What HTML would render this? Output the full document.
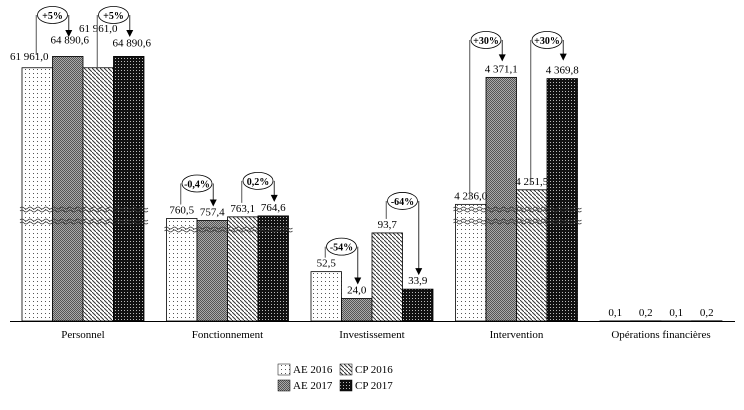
<!DOCTYPE html>
<html><head><meta charset="utf-8"><style>
body{margin:0;background:#fff;}
svg{display:block;font-family:"Liberation Serif",serif;}
</style></head><body>
<svg id="chart" width="744" height="410" viewBox="0 0 744 410">
<defs>
<pattern id="pDots" width="4" height="4" patternUnits="userSpaceOnUse"><rect width="4" height="4" fill="#fff"/><rect x="1" y="1" width="1" height="1" fill="#555"/></pattern>
<pattern id="pGray" width="2" height="2" patternUnits="userSpaceOnUse"><rect width="2" height="2" fill="#aaa"/><rect width="1" height="1" fill="#555"/><rect x="1" y="1" width="1" height="1" fill="#555"/></pattern>
<pattern id="pDiag" width="4" height="4" patternUnits="userSpaceOnUse"><rect width="4" height="4" fill="#fff"/><path d="M-1,-1 l2,2 M0,0 l4,4 M3,3 l2,2" stroke="#333" stroke-width="1"/></pattern>
<pattern id="pBlack" width="3" height="3" patternUnits="userSpaceOnUse"><rect width="3" height="3" fill="#111"/><rect x="1" y="1" width="1" height="1" fill="#bbb"/></pattern>
</defs>
<g id="bars"></g><g id="labels"></g><g id="callouts"></g>
<line x1="10" y1="321.5" x2="735" y2="321.5" stroke="#000" stroke-width="1"/>
<g font-size="11">
<rect x="278" y="364" width="12" height="11" fill="url(#pDots)" stroke="#000" stroke-width="0.5"/><text x="293" y="373">AE 2016</text>
<rect x="340" y="364" width="12" height="11" fill="url(#pDiag)" stroke="#000" stroke-width="0.5"/><text x="355" y="373">CP 2016</text>
<rect x="278" y="380" width="12" height="11" fill="url(#pGray)" stroke="#000" stroke-width="0.5"/><text x="293" y="389">AE 2017</text>
<rect x="340" y="380" width="12" height="11" fill="url(#pBlack)" stroke="#000" stroke-width="0.5"/><text x="355" y="389">CP 2017</text>
</g>
</svg>
<script>
const categories=["Personnel","Fonctionnement","Investissement","Intervention","Opérations financières"];
const ae2016=[61961.0,760.5,52.5,4236.0,0.1];
const ae2017=[64890.6,757.4,24.0,4371.1,0.2];
const cp2016=[61961.0,763.1,93.7,4251.5,0.1];
const cp2017=[64890.6,764.6,33.9,4369.8,0.2];
const changes=[["+5%","+5%"],["-0,4%","0,2%"],["-54%","-64%"],["+30%","+30%"],["",""]];
const labelText=[["61 961,0","64 890,6","61 961,0","64 890,6"],["760,5","757,4","763,1","764,6"],["52,5","24,0","93,7","33,9"],["4 236,0","4 371,1","4 251,5","4 369,8"],["0,1","0,2","0,1","0,2"]];
// broken-axis scale: value knots -> pixel height knots
const knotV=[0,100,755,766,4230,4380,61900,65000];
const knotH=[0,94,99,106,111,252,253,265];
const base=321;
function yScale(v){for(let i=1;i<knotV.length;i++){if(v<=knotV[i]){const t=(v-knotV[i-1])/(knotV[i]-knotV[i-1]);return base-(knotH[i-1]+t*(knotH[i]-knotH[i-1]));}}return base-knotH[knotH.length-1];}
const gStart=22,gStep=144.5,bw=30.5;
function xBar(c,s){return gStart+c*gStep+s*bw;}
const NS="http://www.w3.org/2000/svg";
const series=[ae2016,ae2017,cp2016,cp2017];
const fills=["url(#pDots)","url(#pGray)","url(#pDiag)","url(#pBlack)"];
const sNames=["ae-2016","ae-2017","cp-2016","cp-2017"];
const bars=document.getElementById("bars"),labels=document.getElementById("labels"),co=document.getElementById("callouts");
function mk(tag,attrs,parent){const e=document.createElementNS(NS,tag);for(const k in attrs)e.setAttribute(k,attrs[k]);parent.appendChild(e);return e;}
categories.forEach((cat,c)=>{
  series.forEach((arr,s)=>{
    const x=xBar(c,s),y=yScale(arr[c]);
    const r=mk("rect",{x:x,y:y,width:bw,height:base-y,fill:fills[s],stroke:"#000","stroke-width":"0.8"},bars);
    
    
    let lx=x+bw/2,ly=y-5;
    if(c===0){const dx=[-8,2,0,3],dy=[-3,-8,-31,-5];lx+=dx[s];ly+=dy[s];}
    if(c===4){ly=base-5;}
    const t=mk("text",{x:lx,y:ly,"text-anchor":"middle","font-size":"11"},labels);
    t.textContent=labelText[c][s];
    
    
  });
  const ct=mk("text",{x:gStart+c*gStep+2*bw,y:338,"text-anchor":"middle","font-size":"11"},labels);
  ct.textContent=cat;
  
  
  if(c===0||c===3||c===1){
    const ys=c===1?[228]:[208,220];
    ys.forEach(yy=>{[0,3].forEach(o=>{const x0=gStart+c*gStep-2,x1=x0+4*bw+4;let d="M"+x0+","+(yy+o);for(let x=x0;x<x1;x+=8)d+=" q2,-2 4,0 q2,2 4,0";const p=mk("path",{d:d,fill:"none",stroke:"#333","stroke-width":"0.8"},bars);});});
  }
  [[0,1],[2,3]].forEach((pair,k)=>{
    const txt=changes[c][k];if(!txt)return;
    const a=series[pair[0]][c],b=series[pair[1]][c];
    const xa=xBar(c,pair[0])+bw/2,xb=xBar(c,pair[1])+bw/2;
    const topY=Math.min(yScale(a),yScale(b));
    let ey=c===0?15:(c===3?40:topY-(c===2?(k?32:25):35));
    const cx=(xa+xb)/2;
    const g=mk("g",{},co);
    
    
    const ya=c===0?(k?70:55):yScale(a)-(c===3?5:14);
    mk("line",{x1:xa-1,y1:ey,x2:xa-1,y2:ya,stroke:"#555","stroke-width":"1"},g);
    const yb=c===0?37:yScale(b)-(c===3?(k?18:16):14);
    mk("line",{x1:xb+1,y1:ey,x2:xb+1,y2:yb-6,stroke:"#333","stroke-width":"1"},g);
    mk("path",{d:"M"+(xb-2.5)+","+(yb-7)+" L"+(xb+4.5)+","+(yb-7)+" L"+(xb+1)+","+yb+"z",fill:"#000"},g);
    mk("ellipse",{cx:cx,cy:ey,rx:15,ry:8.5,fill:"#fff",stroke:"#000","stroke-width":"0.8"},g);
    const t=mk("text",{x:cx,y:ey+4,"text-anchor":"middle","font-size":"10","font-weight":"bold"},g);
    t.textContent=txt;
  });
});
</script>
</body></html>
